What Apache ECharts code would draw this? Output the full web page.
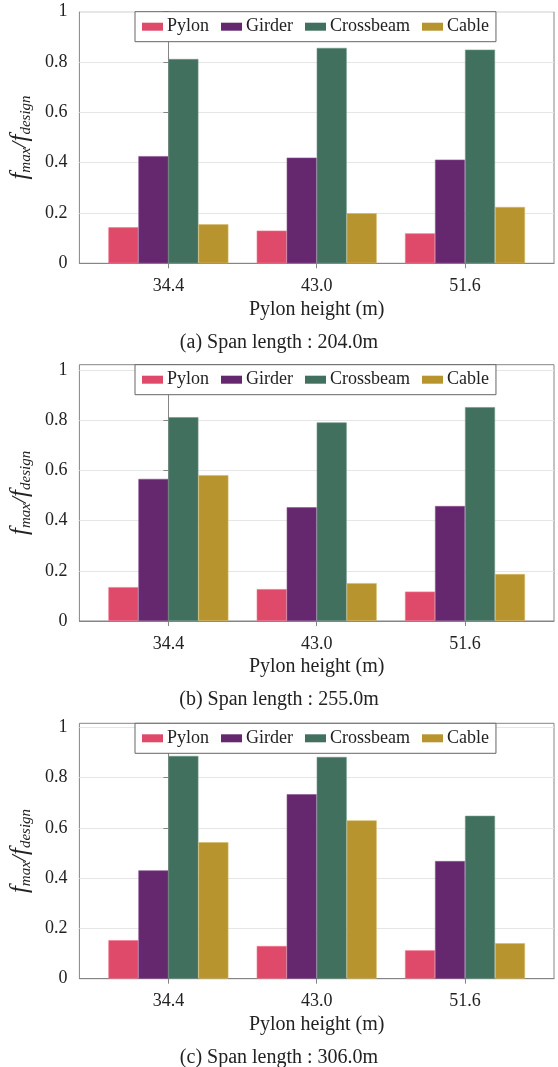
<!DOCTYPE html>
<html>
<head>
<meta charset="utf-8">
<script src="https://cdn.jsdelivr.net/npm/echarts@6/dist/echarts.min.js"></script>
<style>
  html, body { margin: 0; padding: 0; background: #fff; }
  #chart { width: 558px; height: 1067px; }
</style>
</head>
<body>
<div id="chart"></div>
<script>
// pylon heights (categories) and component names
const heights = ['34.4', '43.0', '51.6']
const components = ['Pylon', 'Girder', 'Crossbeam', 'Cable']
const colors = ['#E04A6A', '#65286F', '#41705E', '#B8942F']
const edgeColors = ['#F0788F', '#8A5592', '#6F9586', '#D6B865']
const yTicks = [0, 0.2, 0.4, 0.6, 0.8, 1]

// f_max / f_design, one array per component, per span length
const spanA = {
  Pylon: [0.143, 0.130, 0.119],
  Girder: [0.426, 0.420, 0.412],
  Crossbeam: [0.812, 0.856, 0.849],
  Cable: [0.155, 0.199, 0.224],
}
const spanB = {
  Pylon: [0.135, 0.127, 0.117],
  Girder: [0.566, 0.453, 0.458],
  Crossbeam: [0.812, 0.791, 0.852],
  Cable: [0.581, 0.151, 0.187],
}
const spanC = {
  Pylon: [0.153, 0.130, 0.113],
  Girder: [0.431, 0.734, 0.468],
  Crossbeam: [0.886, 0.882, 0.648],
  Cable: [0.543, 0.630, 0.141],
}
const panels = [
  { data: spanA, caption: '(a) Span length : 204.0m', top: 11.7, height: 251.6, max: 1.0 },
  { data: spanB, caption: '(b) Span length : 255.0m', top: 364.7, height: 256.3, max: 1.021 },
  { data: spanC, caption: '(c) Span length : 306.0m', top: 723.3, height: 255.4, max: 1.016 },
]

const FONT = '"Liberation Serif", "Times New Roman", serif'
const frame = '#858585'
const ink = '#222'

const chart = echarts.init(document.getElementById('chart'), null, { renderer: 'canvas' })

const grid = [], xAxis = [], yAxis = [], series = [], legend = [], title = []

panels.forEach((p, i) => {
  grid.push({
    left: 77, right: 4, top: p.top, height: p.height,
    show: true, borderColor: frame, borderWidth: 1, backgroundColor: 'transparent',
  })
  xAxis.push({
    type: 'value', gridIndex: i, min: -0.6, max: 2.6,
    name: 'Pylon height (m)', nameLocation: 'middle', nameGap: 36,
    nameTextStyle: { fontFamily: FONT, fontSize: 20, color: ink },
    axisLine: { lineStyle: { color: frame, width: 1 } },
    axisTick: { show: true, customValues: [0, 1, 2], length: 5, lineStyle: { color: frame } },
    axisLabel: {
      customValues: [0, 1, 2], margin: 14,
      fontFamily: FONT, fontSize: 18, color: ink,
      formatter: (v) => heights[Math.round(v)],
    },
    splitLine: { show: false },
  })
  yAxis.push({
    type: 'value', gridIndex: i, min: 0, max: p.max, interval: 0.2,
    name: '{f|f}{s|max}{sl|/}{f|f}{s|design}',
    nameLocation: 'middle', nameGap: 36,
    nameTextStyle: {
      rich: {
        f: { fontFamily: FONT, fontStyle: 'italic', fontSize: 25, color: ink },
        sl: { fontFamily: FONT, fontStyle: 'italic', fontSize: 22, color: ink },
        s: { fontFamily: FONT, fontStyle: 'italic', fontSize: 15, color: ink, padding: [12, 0, 0, 0] },
      },
    },
    axisLine: { show: true, lineStyle: { color: frame, width: 1 } },
    axisTick: { show: true, customValues: yTicks, length: 5, lineStyle: { color: frame } },
    axisLabel: {
      customValues: yTicks, margin: 12,
      fontFamily: FONT, fontSize: 18, color: ink,
    },
    splitLine: { show: true, lineStyle: { color: '#e6e6e6', width: 1 } },
  })
  components.forEach((name, k) => {
    series.push({
      name, type: 'bar', xAxisIndex: i, yAxisIndex: i,
      data: p.data[name].map((v, j) => [j, v]),
      barWidth: 30, barGap: '0%',
      itemStyle: { color: colors[k], borderColor: edgeColors[k], borderWidth: 0.6 },
      emphasis: { disabled: true },
    })
  })
  legend.push({
    data: components, left: 135, top: p.top,
    orient: 'horizontal', itemWidth: 21, itemHeight: 8, itemGap: 12,
    padding: [6, 7, 6, 7],
    borderColor: '#666', borderWidth: 1, borderRadius: 0, backgroundColor: '#fff',
    icon: 'rect',
    itemStyle: { borderWidth: 0 },
    textStyle: { fontFamily: FONT, fontSize: 18, color: ink, padding: [0, 0, 0, -1] },
  })
  title.push({
    text: p.caption, left: 'center', top: p.top + p.height + 64,
    textStyle: { fontFamily: FONT, fontSize: 20, fontWeight: 'normal', color: ink },
  })
})

chart.setOption({
  animation: false,
  color: colors,
  title, grid, xAxis, yAxis, series, legend,
})
</script>
</body>
</html>
